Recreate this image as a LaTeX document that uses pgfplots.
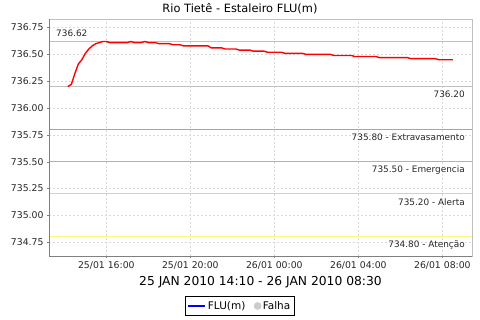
\documentclass[border=0pt]{standalone}
\usepackage{pgfplots}
\pgfplotsset{compat=1.18}
\usepackage{fontspec}
\setmainfont{DejaVu Sans}
\definecolor{mgrey}{RGB}{192,192,192}
\definecolor{cextra}{RGB}{255,128,128}
\definecolor{cemerg}{RGB}{245,130,245}
\definecolor{calert}{RGB}{255,200,128}
\definecolor{caten}{RGB}{255,245,128}
\definecolor{fluline}{RGB}{255,0,0}
\begin{document}
\begin{tikzpicture}
\useasboundingbox (0,0) rectangle (480pt,320pt);
\begin{axis}[
  at={(49pt,64pt)}, anchor=south west,
  width=423pt, height=237pt, scale only axis,
  xmin=13.27, xmax=33.41, ymin=734.62, ymax=736.83,
  xtick={16,20,24,28,32},
  xticklabels={25/01 16:00, 25/01 20:00, 26/01 00:00, 26/01 04:00, 26/01 08:00},
  ytick={734.75,735,735.25,735.5,735.75,736,736.25,736.5,736.75},
  yticklabels={734.75,735.00,735.25,735.50,735.75,736.00,736.25,736.50,736.75},
  /pgf/number format/assume math mode=true,
  scaled ticks=false,
  ticklabel style={font=\fontsize{9.3}{11}\selectfont, text=black!85},
  tick pos=left, tick align=outside, major tick length=2pt,
  tick style={gray},
  grid=major,
  major grid style={dash pattern=on 2pt off 2pt, color=gray!30, line width=0.5pt},
  axis line style={mgrey},
  every axis title shift=0pt,
  title={Rio Tietê - Estaleiro FLU(m)},
  title style={at={(0.4515,1)}, anchor=base, yshift=6.5pt, font=\fontsize{11.4}{13}\selectfont},
  xlabel={25 JAN 2010 14:10 - 26 JAN 2010 08:30},
  xlabel style={at={(0.5,0)}, anchor=base, yshift=-30pt, font=\fontsize{12.3}{14}\selectfont},
  legend columns=2,
  legend style={at={(0.4515,-0.211)}, anchor=center, draw=black, line width=0.6pt,
    font=\fontsize{10.5}{12}\selectfont, inner xsep=2pt, inner ysep=2.5pt},
  legend image post style={line width=1.2pt},
  after end axis/.code={
    \draw[gray, line width=0.8pt] (rel axis cs:0,0) -- (rel axis cs:0,1);
    \draw[gray, line width=0.8pt] (rel axis cs:0,0) -- (rel axis cs:1,0);
  },
]
\addlegendimage{blue, line width=1.2pt}
\addlegendentry{FLU(m)\kern7pt}
\addlegendimage{only marks, mark=*, mark size=3.2pt, color=gray!40}
\addlegendentry{Falha}

\addplot[mgrey, line width=0.8pt, forget plot] coordinates {(13.27,736.62) (33.41,736.62)};
\addplot[mgrey, line width=0.8pt, forget plot] coordinates {(13.27,736.20) (33.41,736.20)};
\addplot[cextra, line width=0.8pt, forget plot] coordinates {(13.27,735.80) (33.41,735.80)};
\addplot[cemerg, line width=0.8pt, forget plot] coordinates {(13.27,735.50) (33.41,735.50)};
\addplot[calert, line width=0.8pt, forget plot] coordinates {(13.27,735.20) (33.41,735.20)};
\addplot[caten, line width=0.8pt, forget plot] coordinates {(13.27,734.80) (33.41,734.80)};

\addplot[fluline, line width=1.4pt, forget plot] coordinates {
(14.167,736.20) (14.333,736.22) (14.5,736.32) (14.667,736.41) (14.833,736.45)
(15.0,736.51) (15.167,736.55) (15.333,736.58) (15.5,736.60) (15.667,736.61)
(15.833,736.62) (16.0,736.62) (16.167,736.61) (16.5,736.61) (16.833,736.61)
(17.0,736.61) (17.167,736.62) (17.333,736.61) (17.5,736.61) (17.667,736.61)
(17.833,736.62) (18.0,736.61) (18.333,736.61) (18.5,736.60) (19.0,736.60)
(19.167,736.59) (19.5,736.59) (19.667,736.58) (20.333,736.58) (20.833,736.58)
(21.0,736.56) (21.5,736.56) (21.667,736.55) (22.167,736.55) (22.333,736.54)
(22.833,736.54) (23.0,736.53) (23.5,736.53) (23.667,736.52) (24.333,736.52)
(24.5,736.51) (25.333,736.51) (25.5,736.50) (26.667,736.50) (26.833,736.49)
(27.667,736.49) (27.833,736.48) (28.833,736.48) (29.0,736.47) (30.333,736.47)
(30.5,736.46) (31.667,736.46) (31.833,736.45) (32.5,736.45)
};

\begin{scope}[font=\fontsize{8.9}{10}\selectfont, text=black!85]
\node[anchor=base west] at (axis cs:13.27,736.62) [xshift=3.7pt, yshift=4.6pt] {736.62};
\node[anchor=base east] at (axis cs:33.41,736.20) [xshift=-3.7pt, yshift=-11.3pt] {736.20};
\node[anchor=base east] at (axis cs:33.41,735.80) [xshift=-3.7pt, yshift=-11.3pt] {735.80 - Extravasamento};
\node[anchor=base east] at (axis cs:33.41,735.50) [xshift=-3.7pt, yshift=-11.3pt] {735.50 - Emergencia};
\node[anchor=base east] at (axis cs:33.41,735.20) [xshift=-3.7pt, yshift=-11.3pt] {735.20 - Alerta};
\node[anchor=base east] at (axis cs:33.41,734.80) [xshift=-3.7pt, yshift=-10.7pt] {734.80 - Atenção};
\end{scope}
\end{axis}
\end{tikzpicture}
\end{document}
